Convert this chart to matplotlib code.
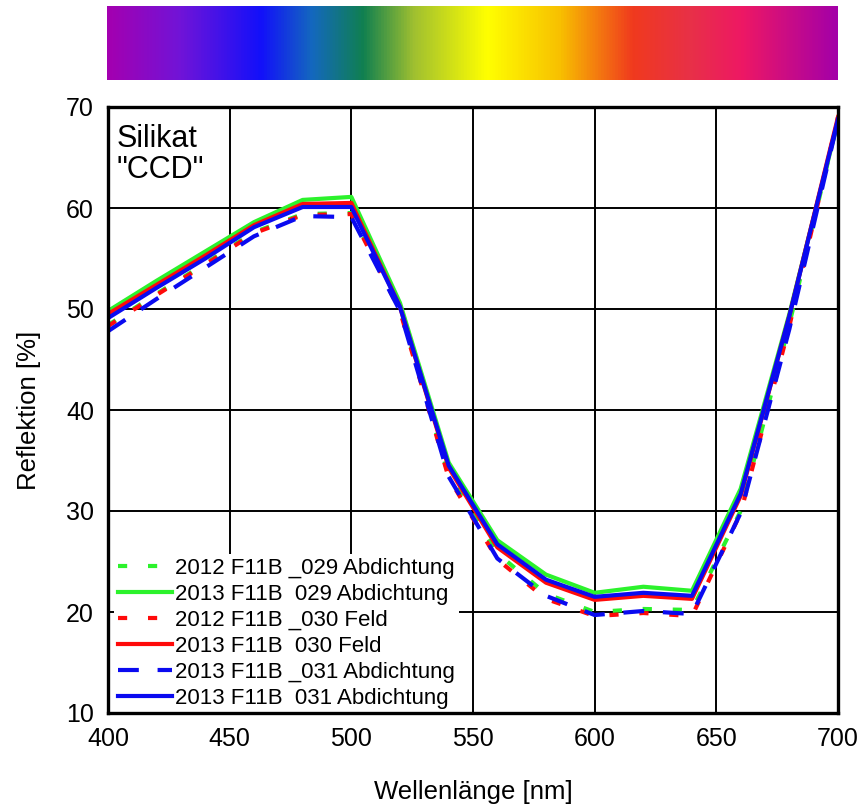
import numpy as np
import matplotlib
matplotlib.use("Agg")
import matplotlib.pyplot as plt
from matplotlib.colors import LinearSegmentedColormap

plt.rcParams["font.family"] = ["Liberation Sans", "DejaVu Sans"]

# wavelength grid [nm]
wl = [400, 420, 440, 460, 480, 500, 520, 540, 560, 580, 600, 620, 640, 660, 680, 700]

# reflection [%]
r2012_029 = [48.4, 51.5, 54.5, 57.6, 59.4, 59.5, 50.0, 33.5, 25.8, 21.8, 20.0, 20.3, 20.2, 30.0, 48.5, 68.8]
r2013_029 = [49.8, 52.8, 55.7, 58.6, 60.8, 61.1, 50.6, 34.8, 27.1, 23.7, 21.9, 22.5, 22.1, 32.2, 49.5, 68.6]
r2012_030 = [48.3, 51.4, 54.4, 57.5, 59.3, 59.4, 49.8, 33.3, 25.2, 21.3, 19.6, 19.9, 19.6, 29.8, 48.3, 69.0]
r2013_030 = [49.5, 52.4, 55.3, 58.3, 60.4, 60.5, 50.2, 34.3, 26.4, 22.9, 21.2, 21.6, 21.3, 31.5, 49.3, 69.0]
r2013_031b = [47.8, 51.0, 54.1, 57.2, 59.2, 59.1, 49.8, 33.4, 25.3, 21.6, 19.7, 20.1, 19.8, 29.8, 48.0, 68.7]
r2013_031 = [49.1, 52.1, 55.0, 58.1, 60.1, 60.1, 50.2, 34.5, 26.7, 23.2, 21.5, 21.9, 21.6, 31.7, 49.3, 68.8]

labels = [
    "2012 F11B _029 Abdichtung",
    "2013 F11B  029 Abdichtung",
    "2012 F11B _030 Feld",
    "2013 F11B  030 Feld",
    "2013 F11B _031 Abdichtung",
    "2013 F11B  031 Abdichtung",
]

# spectrum colour stops
spec_pos = [0.0, 0.1, 0.21, 0.28, 0.35, 0.42, 0.52, 0.62, 0.72, 0.8, 0.87, 1.0]
spec_col = ["#A400B0", "#7014D8", "#1210FA", "#1468BE", "#108050", "#A0C030",
            "#FFFF00", "#F8C000", "#F03A1E", "#E83048", "#EE1864", "#A400A8"]

green = "#2CF22C"
red = "#FF0A0A"
blue = "#0A0AF0"

fig = plt.figure(figsize=(8.61, 8.07), dpi=100)

# spectrum bar
bar = fig.add_axes([107 / 861, 1 - 80 / 807, 731 / 861, 74 / 807])
cmap = LinearSegmentedColormap.from_list("spec", list(zip(spec_pos, spec_col)))
grad = np.linspace(0, 1, 512).reshape(1, -1)
bar.imshow(grad, aspect="auto", cmap=cmap)
bar.set_axis_off()

ax = fig.add_axes([108 / 861, 1 - 713 / 807, 730 / 861, 606 / 807])

ax.plot(wl, r2012_029, color=green, lw=3, dashes=(2.2, 5), label=labels[0])
ax.plot(wl, r2013_029, color=green, lw=3, label=labels[1])
ax.plot(wl, r2012_030, color=red, lw=3, dashes=(2.2, 5), label=labels[2])
ax.plot(wl, r2013_030, color=red, lw=3, label=labels[3])
ax.plot(wl, r2013_031b, color=blue, lw=3, dashes=(5, 4.5), label=labels[4])
ax.plot(wl, r2013_031, color=blue, lw=3, label=labels[5])

ax.set_xlim(400, 700)
ax.set_ylim(10, 70)
ax.set_xticks(range(400, 701, 50))
ax.set_yticks(range(10, 71, 10))
ax.grid(True, color="black", lw=1.4)
ax.set_axisbelow(True)
ax.tick_params(length=0, labelsize=18, pad=10)
for sp in ax.spines.values():
    sp.set_linewidth(2.4)
    sp.set_zorder(10)

ax.set_xlabel("Wellenlänge [nm]", fontsize=18.5, labelpad=21)
ax.set_ylabel("Reflektion [%]", fontsize=18.5, labelpad=18)

ax.text(0.012, 0.972, 'Silikat\n"CCD"', transform=ax.transAxes, fontsize=22,
        va="top", ha="left", linespacing=1.05)

leg = ax.legend(loc="lower left", bbox_to_anchor=(0.008, 0.0), fontsize=16,
                frameon=True, framealpha=1, edgecolor="none", fancybox=False,
                handlelength=2.4, handletextpad=0.15, labelspacing=0.22,
                borderpad=0.2, borderaxespad=0)
leg.get_frame().set_linewidth(0)

fig.savefig("out.png", dpi=100)
